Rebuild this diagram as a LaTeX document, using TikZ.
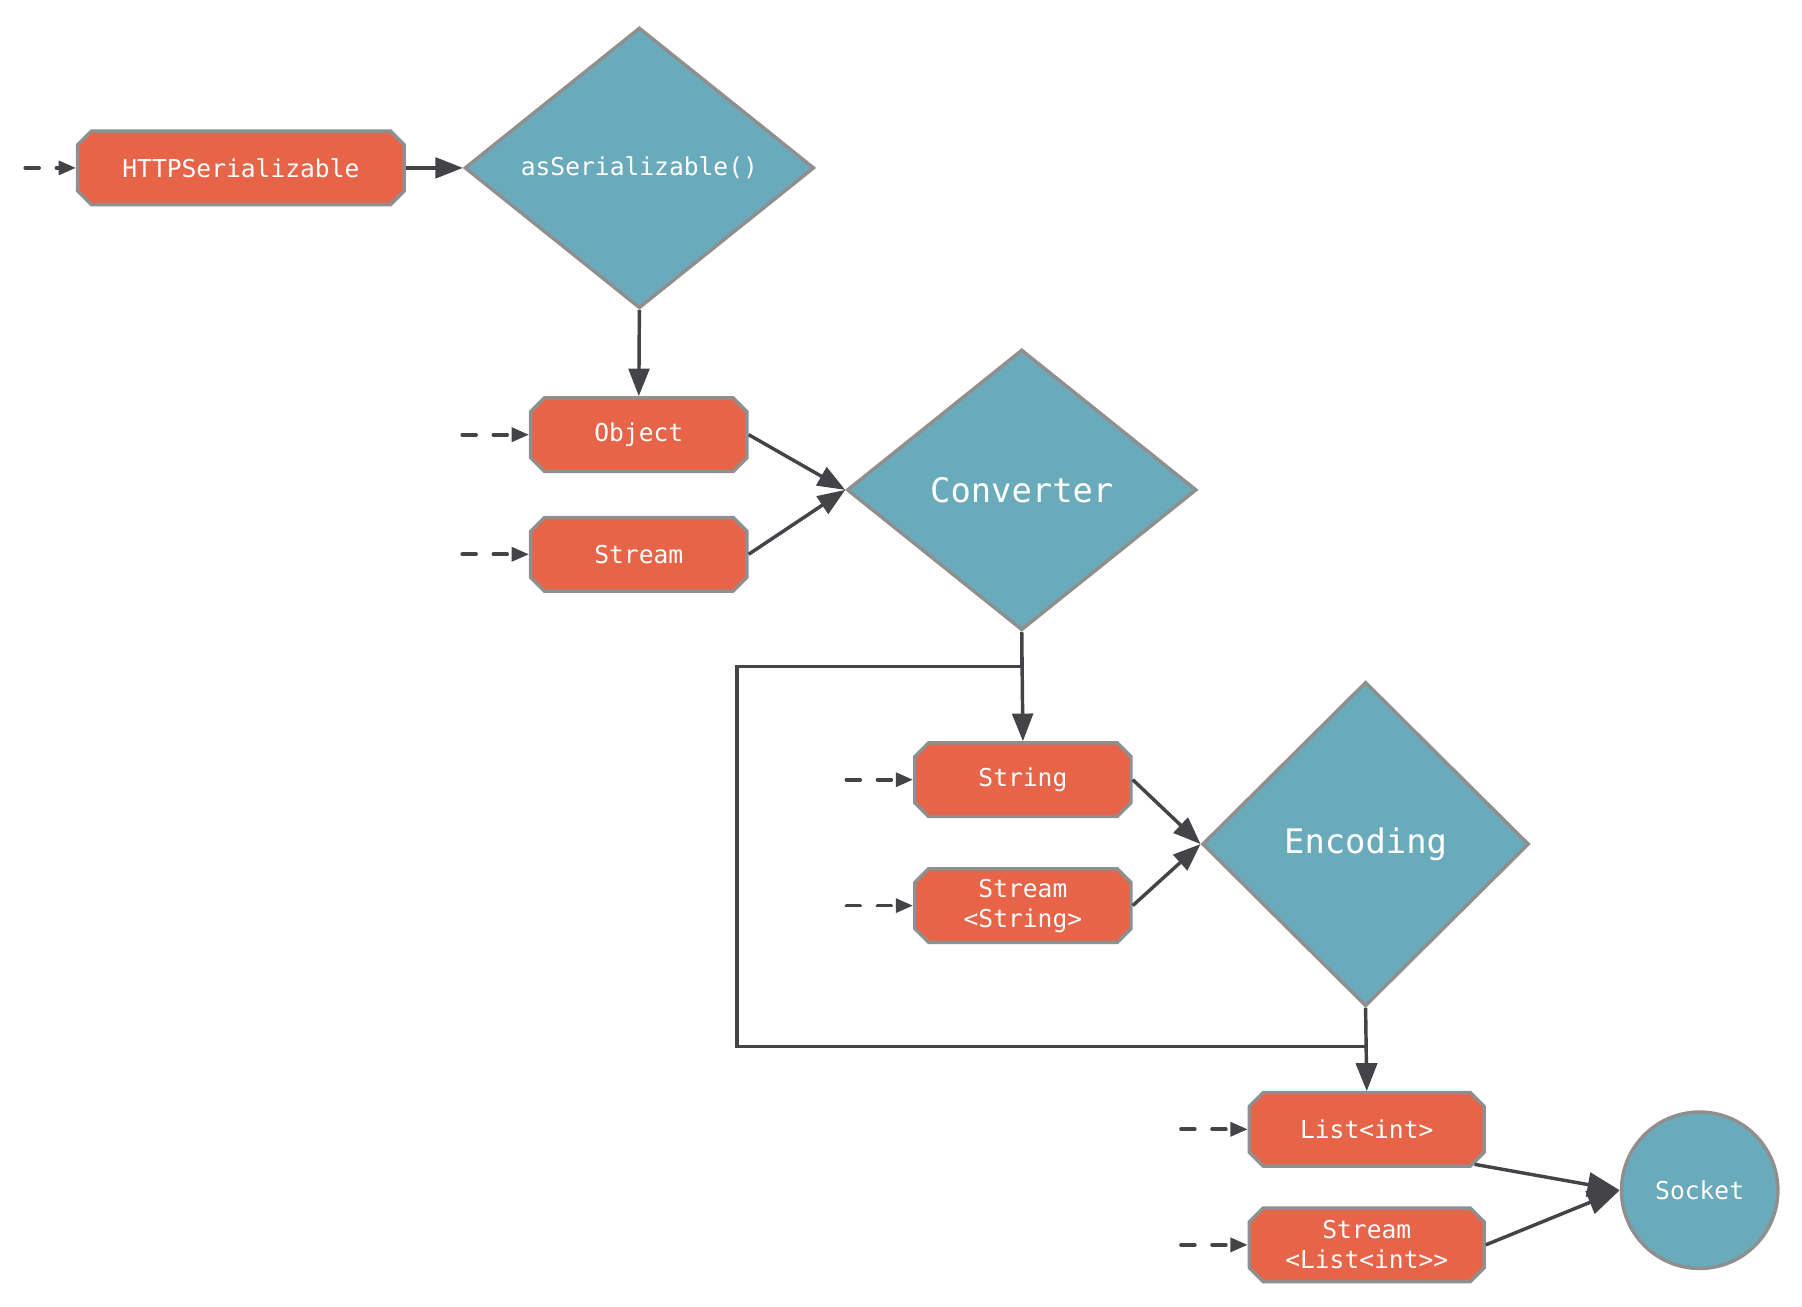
\documentclass[tikz,border=0pt]{standalone}
\usepackage{fontspec}
\newfontfamily\codefont{DejaVu Sans Mono}
\usetikzlibrary{shapes.geometric, shapes.misc, arrows.meta}
\definecolor{boxred}{RGB}{232,100,72}
\definecolor{boxteal}{RGB}{106,171,187}
\definecolor{rim}{RGB}{143,143,143}
\definecolor{wire}{RGB}{68,68,72}

\begin{document}
\begin{tikzpicture}[x = 0.5pt, y = -0.5pt,
		typebox/.style = {chamfered rectangle, chamfered rectangle xsep=3pt, chamfered rectangle ysep=3pt,
			fill=boxred, draw=rim, line width=1.5pt, minimum width=94pt, minimum height=32pt, inner sep=0pt,
			text=white, align=center, font=\codefont\fontsize{10.7}{13}\selectfont},
		decision/.style = {diamond, fill=boxteal, draw=rim, line width=1.5pt, inner sep=0pt,
			text=white, font=\codefont\fontsize{10.7}{13}\selectfont},
		link/.style = {draw=wire, line width=1.5pt, -{Triangle[length=12pt, width=9pt]}},
		biglink/.style = {link, -{Triangle[length=14pt, width=10.5pt]}},
		feed/.style = {draw=wire, line width=1.6pt, line cap=round, dash pattern=on 6pt off 7.5pt, -{Triangle[length=7.5pt, width=6pt]}}]
		\useasboundingbox (0,0) rectangle (1567,1136);

		\node [typebox, minimum width=142pt] (hs) at (209.5,146) {HTTPSerializable};
		\node [decision, minimum width=152pt, minimum height=122pt] (ser) at (556,146) {asSerializable()};
		\node [typebox] (obj) at (555.5,378) {Object};
		\node [typebox] (strm) at (555.5,482) {Stream};
		\node [decision, minimum width=152pt, minimum height=122pt, font=\codefont\fontsize{14.7}{17}\selectfont] (conv) at (888.5,426) {Converter};
		\node [typebox] (str) at (889.5,678) {String};
		\node [typebox] (sstr) at (889.5,787.5) {Stream\\<String>};
		\node [decision, minimum width=142pt, minimum height=141pt, font=\codefont\fontsize{14.7}{17}\selectfont] (enc) at (1187.5,734) {Encoding};
		\node [typebox, minimum width=102pt] (list) at (1188.5,982) {List<int>};
		\node [typebox, minimum width=102pt] (slist) at (1188.5,1082.5) {Stream\\<List<int>>};
		\node [circle, fill=boxteal, draw=rim, line width=1.5pt, minimum size=68pt, inner sep=0pt,
			text=white, font=\codefont\fontsize{10.7}{13}\selectfont] (sock) at (1478,1035) {Socket};

		\foreach \n/\len in {hs/22, obj/29, strm/29, str/29, sstr/29, list/29, slist/29}
		{
			\coordinate (\n-src) at ([xshift=-\len pt]\n.west);
			\draw [feed] (\n-src) -- (\n.west);
		}

		\draw [link] (hs.east) -- (ser.west);
		\draw [link] (ser.south) -- (obj.north);
		\draw [link] (obj.east) -- (conv.west);
		\draw [link] (strm.east) -- (conv.west);
		\draw [link] (conv.south) -- (str.north);
		\draw [link] (conv.south) -- ++(0,30) -| (641,910) -| (list.north);
		\draw [link] (str.east) -- (enc.west);
		\draw [link] (sstr.east) -- (enc.west);
		\draw [link] (enc.south) -- (list.north);
		\draw [biglink] (list.-18) -- (sock.west);
		\draw [biglink] (slist.east) -- (sock.west);
	\end{tikzpicture}
\end{document}
